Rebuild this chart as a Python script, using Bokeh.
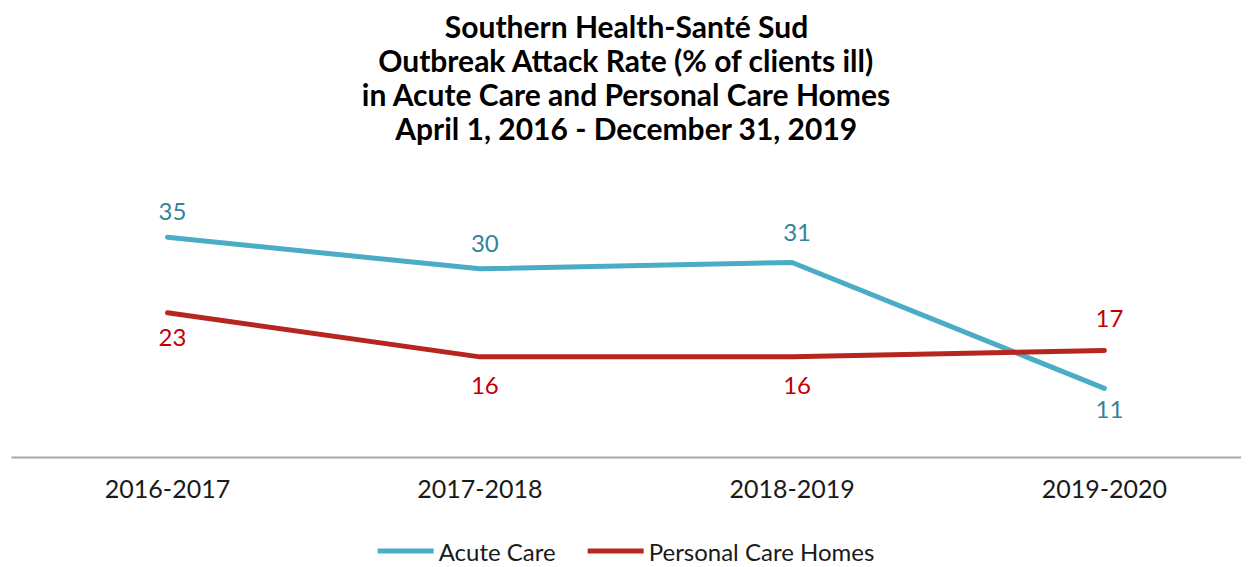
from bokeh.plotting import figure
from bokeh.layouts import column
from bokeh.models import Range1d, Title, Legend, LegendItem, FixedTicker, ColumnDataSource
from bokeh.embed import file_html
from bokeh.resources import INLINE
from bokeh.core.properties import value

categories = ["2016-2017", "2017-2018", "2018-2019", "2019-2020"]
acute_care = [35, 30, 31, 11]
personal_care_homes = [23, 16, 16, 17]
series_names = ["Acute Care", "Personal Care Homes"]
title_lines = [
    "Southern Health-Santé Sud",
    "Outbreak Attack Rate (% of clients ill)",
    "in Acute Care and Personal Care Homes",
    "April 1, 2016 - December 31, 2019",
]

FONT = "Lato"
ACUTE_LINE = "#4BACC6"
ACUTE_TEXT = "#31849B"
PCH_LINE = "#B7261E"
PCH_TEXT = "#C00000"

FRAME_H = 314
PX_PER_UNIT = 6.29

xs = list(range(len(categories)))

p = figure(frame_width=1230, frame_height=FRAME_H,
           output_backend="svg", toolbar_location=None,
           x_range=Range1d(-0.4995, 3.439), y_range=Range1d(0, FRAME_H / PX_PER_UNIT),
           y_axis_location=None, min_border_left=11, min_border_right=0,
           min_border_top=0, min_border_bottom=78, margin=(7, 0, 0, 0))
p.outline_line_color = None
p.grid.visible = False

for line in reversed(title_lines):
    p.add_layout(Title(text=line, align="center", text_font=FONT, text_font_size="30px",
                       text_font_style="bold", text_color="#000000", standoff=-4), "above")

src_a = ColumnDataSource(dict(x=xs, y=acute_care, t=[str(v) for v in acute_care], off=[-26, -25, -30, 21]))
src_p = ColumnDataSource(dict(x=xs, y=personal_care_homes, t=[str(v) for v in personal_care_homes], off=[25, 29, 29, -32]))

p.line("x", "y", source=src_a, line_color=ACUTE_LINE, line_width=5, line_cap="round", line_join="round")
p.line("x", "y", source=src_p, line_color=PCH_LINE, line_width=5, line_cap="round", line_join="round")

p.text("x", "y", text="t", source=src_a, y_offset="off", x_offset=5, text_align="center",
       text_baseline="middle", text_font=value(FONT), text_font_size="24px", text_color=ACUTE_TEXT)
p.text("x", "y", text="t", source=src_p, y_offset="off", x_offset=5, text_align="center",
       text_baseline="middle", text_font=value(FONT), text_font_size="24px", text_color=PCH_TEXT)

ax = p.xaxis[0]
ax.ticker = FixedTicker(ticks=xs)
ax.major_label_overrides = {i: c for i, c in zip(xs, categories)}
ax.major_tick_line_color = None
ax.minor_tick_line_color = None
ax.axis_line_color = "#A6A6A6"
ax.axis_line_width = 2
ax.major_label_text_font = FONT
ax.major_label_text_font_size = "25px"
ax.major_label_text_color = "#1A1A1A"
ax.major_label_standoff = 16

# Legend strip below the chart (series lines fall outside this strip's range; only the legend shows)
lg = figure(width=1241, height=31, output_backend="svg", toolbar_location=None,
            x_axis_location=None, y_axis_location=None, min_border=0,
            x_range=Range1d(0, 1), y_range=Range1d(-2, -1))
lg.outline_line_color = None
lg.grid.visible = False
la = lg.line("x", "y", source=src_a, line_color=ACUTE_LINE, line_width=5, line_cap="round")
lp = lg.line("x", "y", source=src_p, line_color=PCH_LINE, line_width=5, line_cap="round")
legend = Legend(items=[LegendItem(label=series_names[0], renderers=[la]),
                       LegendItem(label=series_names[1], renderers=[lp])],
                orientation="horizontal", location="center",
                glyph_width=56, glyph_height=20, label_standoff=5, spacing=32,
                label_text_font=FONT, label_text_font_size="24px", label_text_color="#1A1A1A",
                border_line_color=None, background_fill_alpha=0, margin=0, padding=0)
lg.add_layout(legend, "center")

layout = column(p, lg, spacing=0)
open("out.html", "w").write(file_html(layout, INLINE))
